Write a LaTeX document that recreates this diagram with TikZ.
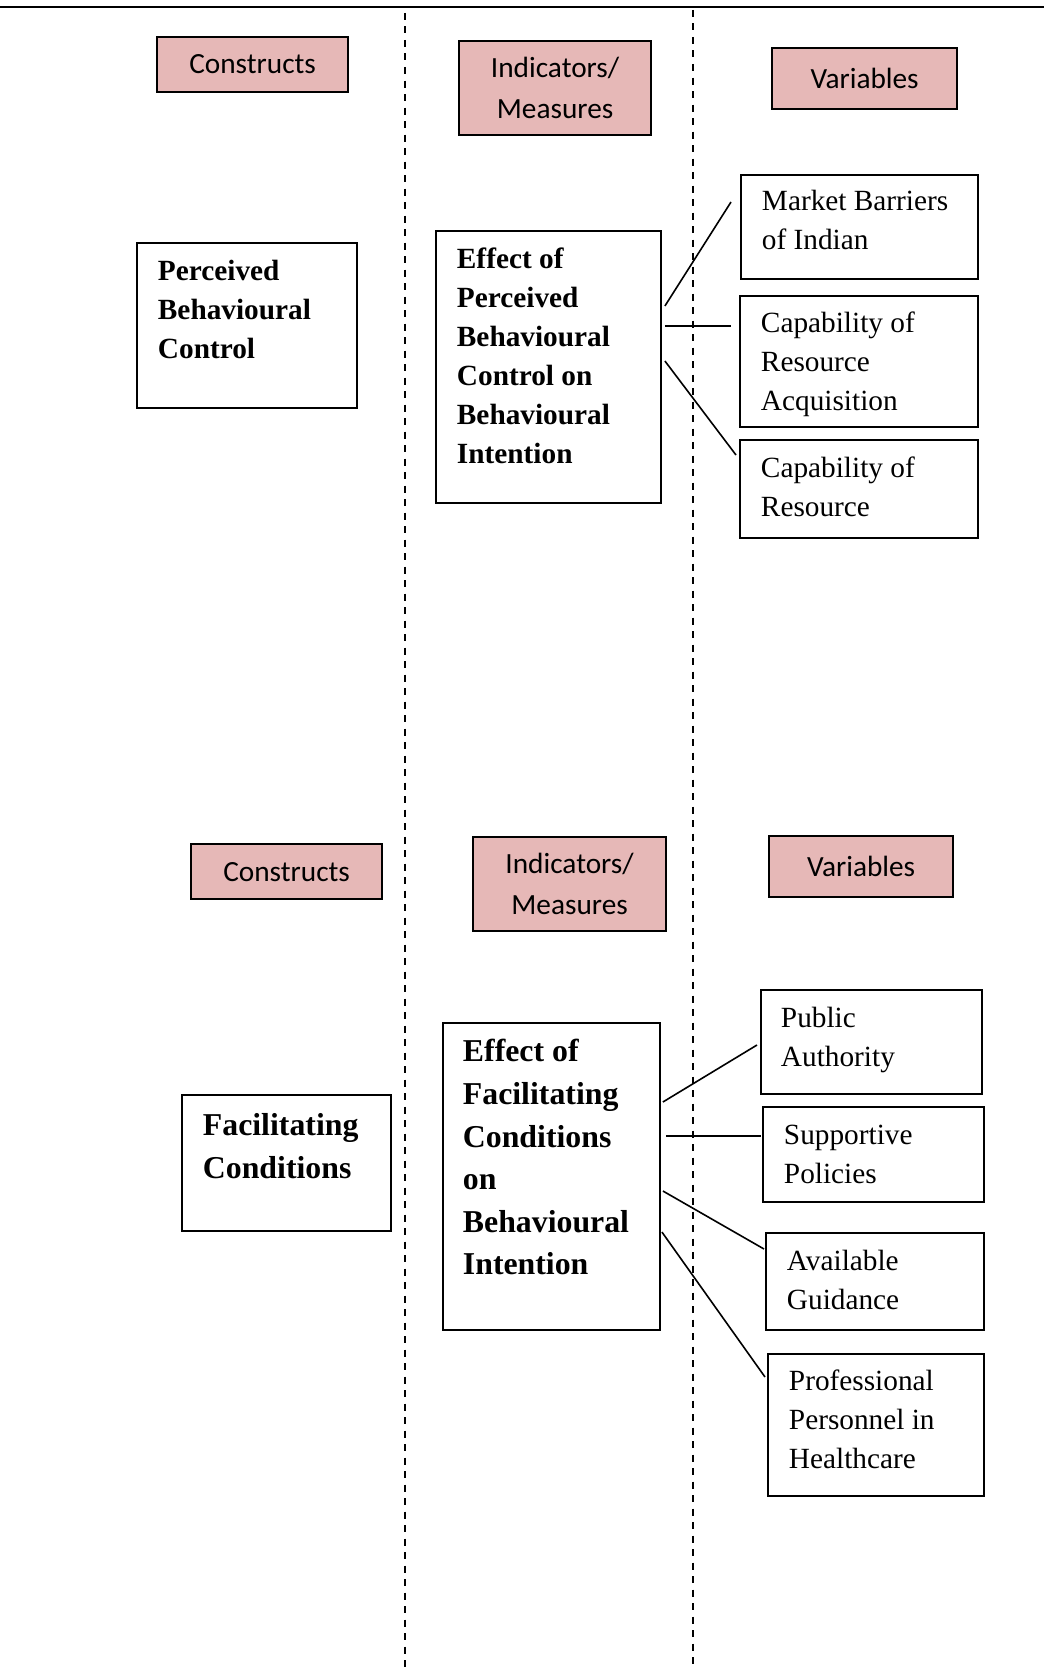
\documentclass[tikz,border=0pt]{standalone}
\usepackage{fontspec}
\setmainfont{Liberation Serif}
\newfontfamily\headfont{Carlito}
\usepackage{tikz}
\usetikzlibrary{shapes,positioning,calc}
\definecolor{headpink}{HTML}{E6B8B7}
\tikzstyle{link} = [line width=1.6pt]

\begin{document}
\begin{tikzpicture}[x=1pt,y=-1pt,
	header/.style={rectangle, draw, line width=2.2pt, fill=headpink, anchor=north west, align=center, inner sep=0pt, font=\headfont\fontsize{29.3}{41.5}\selectfont},
	itembox/.style={rectangle, draw, line width=1.9pt, anchor=north west, align=flush left, inner ysep=0pt, inner xsep=21pt, text height=38pt, font=\fontsize{29.3}{39}\selectfont},
	bigbox/.style={itembox, font=\bfseries\fontsize{31.8}{42.6}\selectfont}]
	\useasboundingbox (0,0) rectangle (1044,1670);
	
	% RULES
	
	\draw[line width=2pt] (0,7) -- (1044,7);
	\draw[line width=1.7pt, dash pattern=on 7pt off 6.5pt] (405,13) -- (405,1670);
	\draw[line width=1.7pt, dash pattern=on 7pt off 6.5pt] (693,10) -- (693,1670);
	
	% HEADERS
	
	\node [header, minimum width=191pt, minimum height=55pt] (constructsA) at (156,36) {Constructs};
	\node [header, minimum width=192pt, minimum height=94pt] (indicatorsA) at (458,40) {Indicators/\\Measures};
	\node [header, minimum width=185pt, minimum height=61pt] (variablesA) at (771,47) {Variables};
	
	\node [header, minimum width=191pt, minimum height=55pt] (constructsB) at (190,843) {Constructs};
	\node [header, minimum width=193pt, minimum height=94pt] (indicatorsB) at (472,836) {Indicators/\\Measures};
	\node [header, minimum width=184pt, minimum height=61pt] (variablesB) at (768,835) {Variables};
	
	% PERCEIVED BEHAVIOURAL CONTROL
	
	\node [itembox, font=\bfseries\fontsize{29.3}{39}\selectfont, text width=178pt, text height=38pt, text depth=127pt] (pbc) at (136,242)
	{Perceived\\Behavioural\\Control};
	
	\node [itembox, font=\bfseries\fontsize{29.3}{39}\selectfont, text width=183pt, text height=38pt, text depth=234pt] (epbc) at (435,230)
	{Effect of\\Perceived\\Behavioural\\Control on\\Behavioural\\Intention};
	
	\node [itembox, text width=195pt, text height=36pt, text depth=68pt] (market) at (740,174)
	{Market Barriers\\of Indian};
	\node [itembox, text width=196pt, text height=37pt, text depth=94pt] (acquisition) at (739,295)
	{Capability of\\Resource\\Acquisition};
	\node [itembox, text width=196pt, text height=38pt, text depth=60pt] (resource) at (739,439)
	{Capability of\\Resource};
	
	% FACILITATING CONDITIONS
	
	\node [bigbox, text width=167pt, text height=41pt, text depth=95pt] (fc) at (181,1094)
	{Facilitating\\Conditions};
	
	\node [bigbox, inner xsep=20pt, text width=177pt, text height=39pt, text depth=268pt] (efc) at (442,1022)
	{Effect of\\Facilitating\\Conditions\\on\\Behavioural\\Intention};
	
	\node [itembox, inner xsep=20pt, text width=181pt, text height=38pt, text depth=66pt] (authority) at (760,989)
	{Public\\Authority};
	\node [itembox, text width=179pt, text height=38pt, text depth=57pt] (policies) at (762,1106)
	{Supportive\\Policies};
	\node [itembox, text width=176pt, text height=38pt, text depth=59pt] (guidance) at (765,1232)
	{Available\\Guidance};
	\node [itembox, text width=174pt, text height=37pt, text depth=105pt] (personnel) at (767,1353)
	{Professional\\Personnel in\\Healthcare};
	
	% LINKS
	
	\draw[link] ([xshift=3pt,yshift=-76pt]epbc.north east) -- ([xshift=-9pt,yshift=-28pt]market.north west);
	\draw[link] ([xshift=3pt,yshift=-96pt]epbc.north east) -- ([xshift=-8pt,yshift=-31pt]acquisition.north west);
	\draw[link] ([xshift=3pt,yshift=-131pt]epbc.north east) -- ([xshift=-3pt,yshift=-16pt]resource.north west);
	
	\draw[link] ([xshift=2pt,yshift=-80pt]efc.north east) -- ([xshift=-3pt,yshift=-56pt]authority.north west);
	\draw[link] ([xshift=5pt,yshift=-114pt]efc.north east) -- ([xshift=-1pt,yshift=-30pt]policies.north west);
	\draw[link] ([xshift=2pt,yshift=-169pt]efc.north east) -- ([xshift=-1pt,yshift=-17pt]guidance.north west);
	\draw[link] ([xshift=1pt,yshift=-210pt]efc.north east) -- ([xshift=-2pt,yshift=-24pt]personnel.north west);
	
\end{tikzpicture}
\end{document}
